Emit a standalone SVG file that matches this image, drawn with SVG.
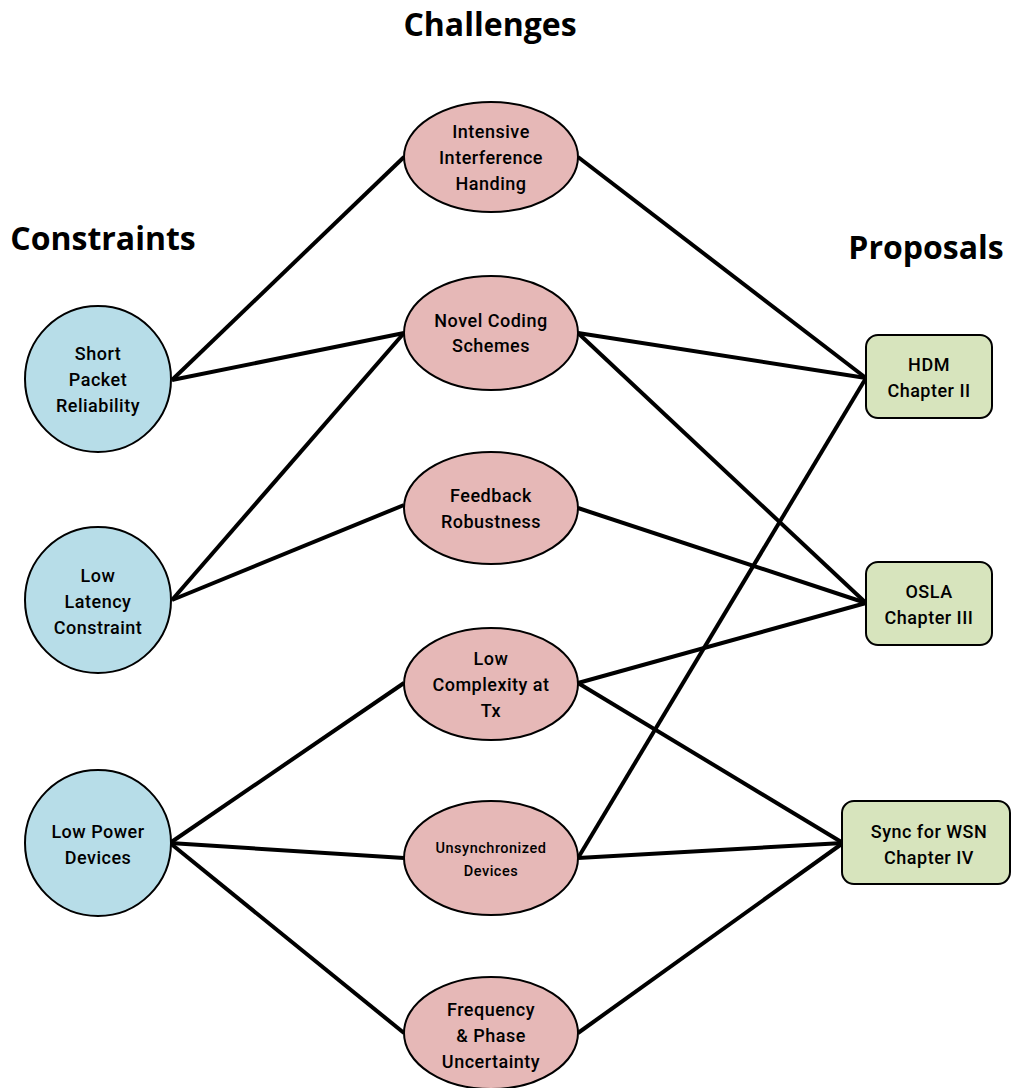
<svg xmlns="http://www.w3.org/2000/svg" width="1012" height="1088" viewBox="0 0 1012 1088">
<style>
.title{font-family:"Open Sans","Liberation Sans",sans-serif;font-weight:bold;font-size:32px;fill:#000;text-anchor:middle}
.lbl{font-family:"Roboto","Liberation Sans",sans-serif;font-weight:500;font-size:18px;fill:#000;text-anchor:middle;letter-spacing:0.5px}
.sm{font-size:14.5px}
.c{fill:#b7dde8;stroke:#000;stroke-width:2}
.e{fill:#e6b8b7;stroke:#000;stroke-width:2}
.p{fill:#d7e4bd;stroke:#000;stroke-width:2}
.edge{stroke:#000;stroke-width:4;fill:none}
</style>
<rect width="1012" height="1088" fill="#fff"/>
<text class="title" x="490" y="36">Challenges</text>
<text class="title" x="103" y="250">Constraints</text>
<text class="title" x="926" y="259">Proposals</text>
<g id="connectors">
<line class="edge" x1="172" y1="380" x2="404" y2="157"/>
<line class="edge" x1="172" y1="380" x2="404" y2="333"/>
<line class="edge" x1="172" y1="600" x2="404" y2="333"/>
<line class="edge" x1="172" y1="600" x2="404" y2="505"/>
<line class="edge" x1="170" y1="843" x2="404" y2="683"/>
<line class="edge" x1="170" y1="843" x2="404" y2="858"/>
<line class="edge" x1="170" y1="843" x2="404" y2="1033"/>
<line class="edge" x1="578" y1="157" x2="866" y2="378"/>
<line class="edge" x1="578" y1="333" x2="866" y2="378"/>
<line class="edge" x1="578" y1="333" x2="866" y2="603"/>
<line class="edge" x1="578" y1="508" x2="866" y2="603"/>
<line class="edge" x1="578" y1="683" x2="866" y2="603"/>
<line class="edge" x1="578" y1="683" x2="843" y2="843"/>
<line class="edge" x1="578" y1="858" x2="866" y2="378"/>
<line class="edge" x1="578" y1="858" x2="843" y2="843"/>
<line class="edge" x1="578" y1="1033" x2="843" y2="843"/>
</g>
<g id="short-packet"><circle class="c" cx="98" cy="379" r="73"/>
<text class="lbl" x="98" y="360">Short</text><text class="lbl" x="98" y="386">Packet</text><text class="lbl" x="98" y="412">Reliability</text></g>
<g id="low-latency"><circle class="c" cx="98" cy="600" r="73"/>
<text class="lbl" x="98" y="582">Low</text><text class="lbl" x="98" y="608">Latency</text><text class="lbl" x="98" y="634">Constraint</text></g>
<g id="low-power"><circle class="c" cx="98" cy="843" r="73"/>
<text class="lbl" x="98" y="838">Low Power</text><text class="lbl" x="98" y="864">Devices</text></g>
<g id="intensive"><ellipse class="e" cx="491" cy="157" rx="87" ry="55"/>
<text class="lbl" x="491" y="138">Intensive</text><text class="lbl" x="491" y="164">Interference</text><text class="lbl" x="491" y="190">Handing</text></g>
<g id="novel"><ellipse class="e" cx="491" cy="333" rx="87" ry="57"/>
<text class="lbl" x="491" y="327">Novel Coding</text><text class="lbl" x="491" y="352">Schemes</text></g>
<g id="feedback"><ellipse class="e" cx="491" cy="508" rx="87" ry="56"/>
<text class="lbl" x="491" y="502">Feedback</text><text class="lbl" x="491" y="528">Robustness</text></g>
<g id="low-complexity"><ellipse class="e" cx="491" cy="684" rx="87" ry="56"/>
<text class="lbl" x="491" y="665">Low</text><text class="lbl" x="491" y="691">Complexity at</text><text class="lbl" x="491" y="717">Tx</text></g>
<g id="unsync"><ellipse class="e" cx="491" cy="858" rx="87" ry="57"/>
<text class="lbl sm" x="491" y="853">Unsynchronized</text><text class="lbl sm" x="491" y="876">Devices</text></g>
<g id="frequency"><ellipse class="e" cx="491" cy="1033" rx="87" ry="56"/>
<text class="lbl" x="491" y="1016">Frequency</text><text class="lbl" x="491" y="1042">&amp; Phase</text><text class="lbl" x="491" y="1068">Uncertainty</text></g>
<g id="hdm"><rect class="p" x="866" y="335" width="126" height="83" rx="12"/>
<text class="lbl" x="929" y="371">HDM</text><text class="lbl" x="929" y="397">Chapter II</text></g>
<g id="osla"><rect class="p" x="866" y="562" width="126" height="83" rx="12"/>
<text class="lbl" x="929" y="598">OSLA</text><text class="lbl" x="929" y="624">Chapter III</text></g>
<g id="sync"><rect class="p" x="842" y="801" width="168" height="83" rx="12"/>
<text class="lbl" x="929" y="838">Sync for WSN</text><text class="lbl" x="929" y="864">Chapter IV</text></g>
</svg>
